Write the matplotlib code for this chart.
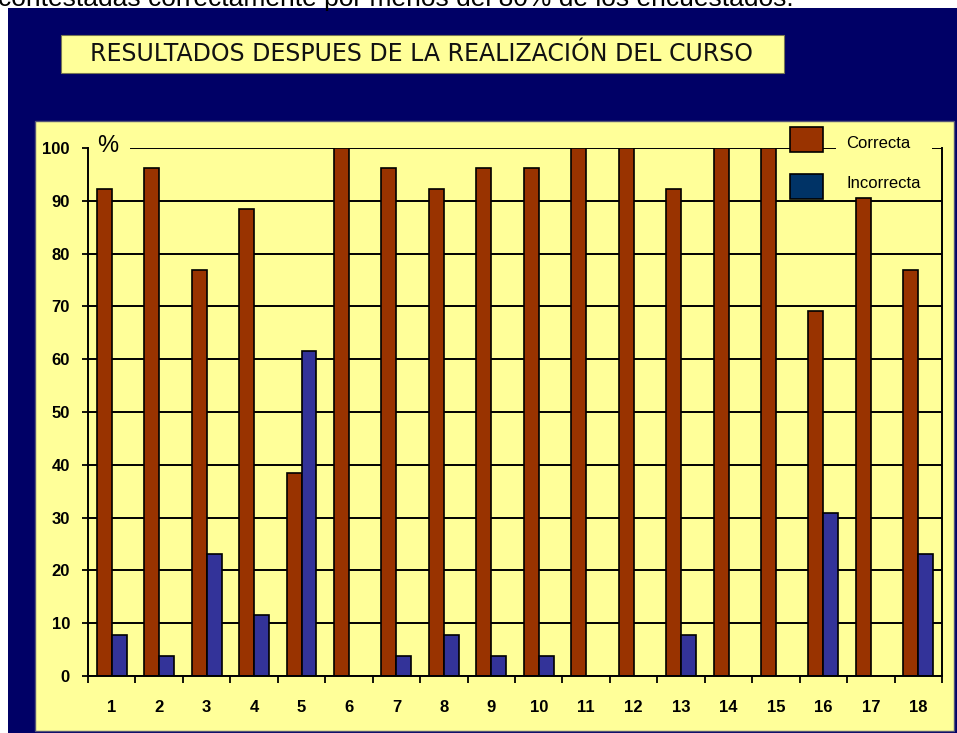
import matplotlib
matplotlib.use("Agg")
import matplotlib.pyplot as plt
from matplotlib.patches import Rectangle
import numpy as np

preguntas = [str(i) for i in range(1, 19)]
correcta = [92.3, 96.2, 76.9, 88.5, 38.5, 100, 96.2, 92.3, 96.2, 96.2,
            100, 100, 92.3, 100, 100, 69.2, 90.5, 76.9]
incorrecta = [7.7, 3.8, 23.1, 11.5, 61.5, 0, 3.8, 7.7, 3.8, 3.8,
              0, 0, 7.7, 0, 0, 30.8, 0, 23.1]
series = ["Correcta", "Incorrecta"]
y_ticks = list(range(0, 101, 10))

W, H = 957, 733
NAVY = "#000066"
AMARILLO = "#FFFF99"
ROJO = "#993300"
AZUL = "#333399"
AZUL_LEYENDA = "#003366"

plt.rcParams["font.family"] = ["Liberation Sans", "DejaVu Sans"]

fig = plt.figure(figsize=(W / 100, H / 100), dpi=100)
fig.patch.set_facecolor("white")


def rect_px(x0, y0, x1, y1, **kw):
    # rectangulo en pixeles de la imagen (y hacia abajo)
    return Rectangle((x0 / W, 1 - y1 / H), (x1 - x0) / W, (y1 - y0) / H,
                     transform=fig.transFigure, **kw)


def pos(x, y):
    return x / W, 1 - y / H


# texto cortado arriba (como en la captura)
fig.text(*pos(-2, 6), "contestadas correctamente por menos del 80% de los encuestados.",
         fontsize=19, color="black", va="baseline", ha="left")

fig.patches.append(rect_px(8, 8, 960, 740, facecolor=NAVY, edgecolor="none", zorder=0))
fig.patches.append(rect_px(61, 35, 784, 73, facecolor=AMARILLO, edgecolor="#777755",
                           lw=0.8, zorder=1))
fig.text(*pos(422, 54), "RESULTADOS DESPUES DE LA REALIZACIÓN DEL CURSO",
         fontsize=17, family="DejaVu Sans", color="#111111", ha="center", va="center",
         zorder=2)
fig.patches.append(rect_px(35, 121, 954, 731, facecolor=AMARILLO, edgecolor="#555577",
                           lw=1, zorder=1))

ax = fig.add_axes([88 / W, 1 - 676 / H, 854 / W, 528 / H], zorder=3)
ax.patch.set_alpha(0)

x = np.arange(1, len(preguntas) + 1)
ancho = 0.316
ax.bar(x - ancho / 2, correcta, ancho, color=ROJO, edgecolor="black", lw=1.2,
       label=series[0], zorder=2)
ax.bar(x + ancho / 2, incorrecta, ancho, color=AZUL, edgecolor="black", lw=1.2,
       label=series[1], zorder=2)

ax.set_xlim(0.5, len(preguntas) + 0.5)
ax.set_ylim(0, 100)
ax.set_yticks(y_ticks)
ax.set_yticklabels([str(v) for v in y_ticks], fontweight="bold", fontsize=12)
ax.set_xticks(x)
ax.set_xticklabels(preguntas, fontweight="bold", fontsize=12)
ax.set_xticks(np.arange(0.5, len(preguntas) + 1, 1), minor=True)
ax.tick_params(axis="x", which="major", length=0, pad=17)
ax.tick_params(axis="x", which="minor", length=5, width=1.3, direction="out")
ax.tick_params(axis="y", length=4, width=1.3, direction="out", pad=9)

ax.set_axisbelow(True)
ax.yaxis.grid(True, color="black", lw=1.4)
ax.spines["top"].set_visible(False)
for s in ["left", "right", "bottom"]:
    ax.spines[s].set_linewidth(1.4)

# "%" sobre el eje
ax.add_patch(rect_px(89, 132, 130, 167, facecolor=AMARILLO, edgecolor="none",
                     zorder=4, clip_on=False))
fig.text(*pos(108, 146), "%", fontsize=17, ha="center", va="center", zorder=5)

# leyenda
ax.add_patch(rect_px(836, 130, 932, 165, facecolor=AMARILLO, edgecolor="none",
                     zorder=4, clip_on=False))
caja_y = [127, 174]
texto_y = [143, 183]
for nombre, color, y0, yt in zip(series, [ROJO, AZUL_LEYENDA], caja_y, texto_y):
    ax.add_patch(rect_px(790, y0, 823, y0 + 25, facecolor=color, edgecolor="black",
                         lw=1.2, zorder=5, clip_on=False))
    fig.text(*pos(846, yt), nombre, fontsize=12, ha="left", va="center", zorder=6)

fig.savefig("out.png", dpi=100, facecolor=fig.get_facecolor())
